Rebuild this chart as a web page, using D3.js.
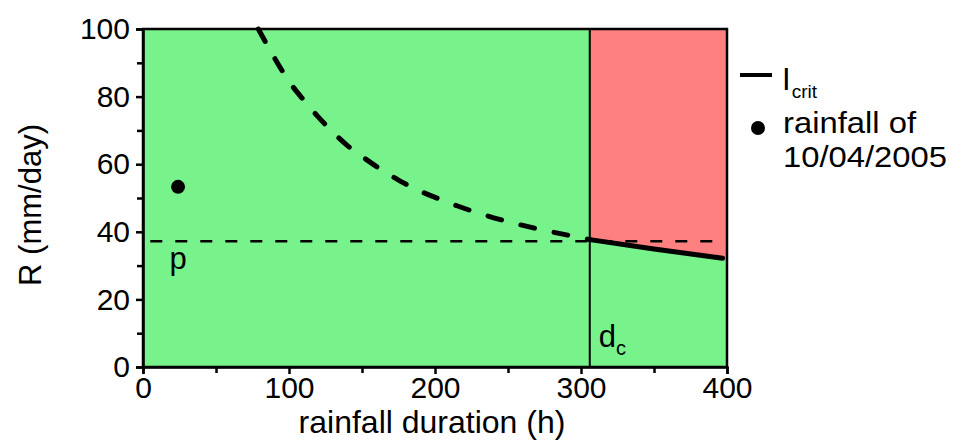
<!DOCTYPE html>
<html>
<head>
<meta charset="utf-8">
<script src="https://cdn.jsdelivr.net/npm/d3@7"></script>
<style>
  html, body { margin: 0; padding: 0; background: #ffffff; }
  svg { display: block; font-family: "Liberation Sans", Arial, sans-serif; }
</style>
</head>
<body>
<svg id="chart" width="958" height="442"></svg>
<script>
// Critical rainfall intensity threshold I_crit (dashed below d_c, solid beyond)
const critDuration  = [79, 90, 100, 110, 120, 130, 140, 150, 160, 175, 190, 200, 215, 230, 250, 270, 290, 306];
const critIntensity = [100, 91.5, 84.5, 79, 74, 69.5, 65.5, 62.3, 59.3, 55.3, 52, 50.2, 47.7, 45.5, 43.0, 40.9, 39.1, 37.7];
const solidDuration  = [306, 350, 397];
const solidIntensity = [37.7, 34.9, 32.2];

// Critical duration d_c and the plateau level p
const criticalDuration = 306;
const pLevel = 37.2;
const pLineExtent = [5, 395];

// Observed event: rainfall of 10/04/2005
const eventDuration = [24];
const eventIntensity = [53.3];

const xTicks = [0, 100, 200, 300, 400];
const xMinorTicks = [50, 150, 250, 350];
const yTicks = [0, 20, 40, 60, 80, 100];
const yMinorTicks = [10, 30, 50, 70, 90];

const svg = d3.select("#chart");
const plot = { left: 143, top: 29, right: 727, bottom: 367 };

const x = d3.scaleLinear().domain([0, 400]).range([plot.left, plot.right]);
const y = d3.scaleLinear().domain([0, 100]).range([plot.bottom, plot.top]);

const green = "#78f28b";
const red = "#ff8080";

// background regions
svg.append("rect")
  .attr("x", x(0)).attr("y", y(100))
  .attr("width", x(400) - x(0)).attr("height", y(0) - y(100))
  .attr("fill", green);

// exceedance region: above the solid threshold, beyond d_c
const solidPts = solidDuration.map((d, i) => [d, solidIntensity[i]]);
const lastSolid = solidPts[solidPts.length - 1];
svg.append("path")
  .attr("d", d3.line().x(d => x(d[0])).y(d => y(d[1]))(
    [[criticalDuration, 100], [400, 100], [400, lastSolid[1] - 0.1]]
      .concat(solidPts.slice().reverse())
  ) + "Z")
  .attr("fill", red);

// critical duration marker
svg.append("line")
  .attr("x1", x(criticalDuration)).attr("x2", x(criticalDuration))
  .attr("y1", y(100)).attr("y2", y(0))
  .attr("stroke", "#000").attr("stroke-width", 2);

// plateau p
svg.append("line")
  .attr("x1", x(pLineExtent[0])).attr("x2", x(pLineExtent[1]))
  .attr("y1", y(pLevel)).attr("y2", y(pLevel))
  .attr("stroke", "#000").attr("stroke-width", 2.5)
  .attr("stroke-dasharray", "12,13");

// threshold curve
const line = d3.line().x(d => x(d[0])).y(d => y(d[1])).curve(d3.curveMonotoneX);
svg.append("path")
  .attr("d", line(critDuration.map((d, i) => [d, critIntensity[i]])))
  .attr("fill", "none").attr("stroke", "#000").attr("stroke-width", 5)
  .attr("stroke-linecap", "round")
  .attr("stroke-dasharray", "14,20");

svg.append("path")
  .attr("d", line(solidPts))
  .attr("fill", "none").attr("stroke", "#000").attr("stroke-width", 5)
  .attr("stroke-linecap", "round");

// event point
svg.selectAll("circle.event")
  .data(eventDuration.map((d, i) => [d, eventIntensity[i]]))
  .enter().append("circle")
  .attr("class", "event")
  .attr("cx", d => x(d[0])).attr("cy", d => y(d[1])).attr("r", 7)
  .attr("fill", "#000");

// in-plot labels
svg.append("text")
  .attr("x", x(eventDuration[0])).attr("y", y(pLevel) + 28)
  .attr("text-anchor", "middle").attr("font-size", 31).text("p");

const dc = svg.append("text")
  .attr("x", x(criticalDuration) + 9).attr("y", y(0) - 20)
  .attr("font-size", 31);
dc.append("tspan").text("d");
dc.append("tspan").attr("font-size", 20).attr("dy", 8).text("c");

// frame
svg.append("rect")
  .attr("x", x(0)).attr("y", y(100))
  .attr("width", x(400) - x(0)).attr("height", y(0) - y(100))
  .attr("fill", "none").attr("stroke", "#000").attr("stroke-width", 2.5);

// axes
const xAxis = svg.append("g")
  .attr("transform", `translate(0,${plot.bottom})`)
  .call(d3.axisBottom(x).tickValues(xTicks).tickSize(7).tickPadding(3));
const yAxis = svg.append("g")
  .attr("transform", `translate(${plot.left},0)`)
  .call(d3.axisLeft(y).tickValues(yTicks).tickSize(7).tickPadding(6));

[xAxis, yAxis].forEach(g => {
  g.select(".domain").attr("stroke-width", 2.5);
  g.selectAll(".tick line").attr("stroke-width", 2.5);
  g.selectAll(".tick text").attr("font-size", 30).attr("font-family", "Liberation Sans, Arial, sans-serif").attr("fill", "#000");
});

svg.append("g").attr("transform", `translate(0,${plot.bottom})`)
  .call(d3.axisBottom(x).tickValues(xMinorTicks).tickSize(6).tickFormat(""))
  .call(g => { g.select(".domain").remove(); g.selectAll("line").attr("stroke-width", 2.5); });
svg.append("g").attr("transform", `translate(${plot.left},0)`)
  .call(d3.axisLeft(y).tickValues(yMinorTicks).tickSize(6).tickFormat(""))
  .call(g => { g.select(".domain").remove(); g.selectAll("line").attr("stroke-width", 2.5); });

// axis titles
svg.append("text")
  .attr("x", (plot.left + plot.right) / 2 - 3).attr("y", 433)
  .attr("text-anchor", "middle").attr("font-size", 32)
  .text("rainfall duration (h)");
svg.append("text")
  .attr("transform", `translate(41,${(plot.top + plot.bottom) / 2 + 7}) rotate(-90)`)
  .attr("text-anchor", "middle").attr("font-size", 31)
  .text("R (mm/day)");

// legend
const legend = svg.append("g");
legend.append("line")
  .attr("x1", 740).attr("x2", 772).attr("y1", 75).attr("y2", 75)
  .attr("stroke", "#000").attr("stroke-width", 4);
const lt = legend.append("text").attr("x", 782).attr("y", 90).attr("font-size", 31);
lt.append("tspan").text("I");
lt.append("tspan").attr("font-size", 19).attr("dy", 8).attr("dx", 1).text("crit");
legend.append("circle").attr("cx", 758).attr("cy", 128).attr("r", 7).attr("fill", "#000");
legend.append("text").attr("x", 783).attr("y", 133).attr("font-size", 30)
  .attr("textLength", 133).attr("lengthAdjust", "spacingAndGlyphs").text("rainfall of");
legend.append("text").attr("x", 783).attr("y", 167).attr("font-size", 30)
  .attr("textLength", 164).attr("lengthAdjust", "spacingAndGlyphs").text("10/04/2005");
</script>
</body>
</html>
